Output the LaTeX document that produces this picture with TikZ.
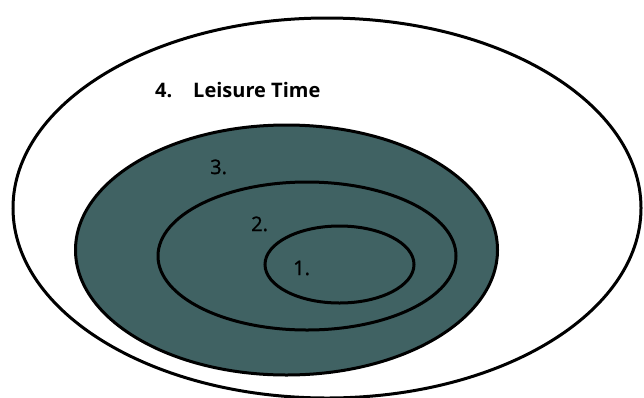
\documentclass[tikz,border=0pt]{standalone}
\usepackage{fontspec}
\setmainfont{Open Sans}
\newfontfamily\medfont[FakeBold=1.2]{Open Sans}
\definecolor{teal}{RGB}{64,98,99}
\begin{document}
\begin{tikzpicture}[x=1pt,y=-1pt,
  ring/.style={draw=black,line width=3pt},
  lab/.style={anchor=base west,inner sep=0pt,font=\fontsize{20}{24}\selectfont\medfont}]
\useasboundingbox (0,0) rectangle (644,397);
\draw[ring] (327,208) ellipse [x radius=314, y radius=190];
\draw[ring,fill=teal] (286.5,250) ellipse [x radius=211, y radius=125];
\draw[ring] (307,256) ellipse [x radius=149, y radius=74];
\draw[ring] (339.5,264.5) ellipse [x radius=74.5, y radius=38.5];
\node[lab,font=\fontsize{20}{24}\selectfont\bfseries] (n4) at (155,97) {4.};
\node[lab,font=\fontsize{20}{24}\selectfont\bfseries] (t4) at (193,97) {Leisure Time};
\node[lab] (n3) at (210,174) {3.};
\node[lab] (n2) at (251,231) {2.};
\node[lab] (n1) at (293,275) {1.};
\end{tikzpicture}
\end{document}
